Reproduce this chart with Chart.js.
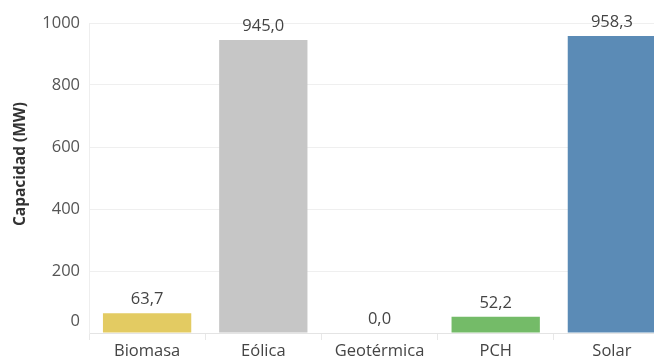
<!DOCTYPE html>
<html>
<head>
<meta charset="utf-8">
<script src="https://cdn.jsdelivr.net/npm/chart.js@4/dist/chart.umd.min.js"></script>
<style>
  html, body { margin: 0; padding: 0; background: #fff; overflow: hidden; }
  #wrap { width: 654px; height: 358px; overflow: hidden; position: relative; }
  canvas { display: block; }
</style>
</head>
<body>
<div id="wrap"><canvas id="c" width="670" height="358"></canvas></div>
<script>
const categories = ['Biomasa', 'Eólica', 'Geotérmica', 'PCH', 'Solar'];
const capacidadMW = [63.7, 945.0, 0.0, 52.2, 958.3];
const barColors = ['#e3cb62', '#c6c6c6', '#9fcbe8', '#74bb68', '#5b8bb6'];
const yTicks = [0, 200, 400, 600, 800, 1000];
const yTitle = 'Capacidad (MW)';

const FONT = '"Open Sans", "Noto Sans", sans-serif';
const fmt = v => v.toFixed(1).replace('.', ',');

// value labels above each bar, plus the axis title and the raised zero label
const extras = {
  id: 'extras',
  afterDatasetsDraw(chart) {
    const ctx = chart.ctx;
    const meta = chart.getDatasetMeta(0);
    ctx.save();
    ctx.font = '16.5px ' + FONT;
    ctx.fillStyle = '#444';
    ctx.textAlign = 'center';
    ctx.textBaseline = 'middle';
    meta.data.forEach((bar, i) => {
      ctx.fillText(fmt(capacidadMW[i]), bar.x, bar.y - 14);
    });
    ctx.restore();
  },
  afterDraw(chart) {
    const ctx = chart.ctx;
    const y = chart.scales.y;
    ctx.save();
    ctx.font = '16.5px ' + FONT;
    ctx.fillStyle = '#555';
    ctx.textAlign = 'right';
    ctx.textBaseline = 'middle';
    ctx.fillText('0', y.right - 9, y.getPixelForValue(0) - 12);
    ctx.translate(21, 164);
    ctx.rotate(-Math.PI / 2);
    ctx.textAlign = 'center';
    ctx.font = 'bold 15.5px ' + FONT;
    ctx.fillStyle = '#333';
    ctx.fillText(yTitle, 0, 0);
    ctx.restore();
  }
};

new Chart(document.getElementById('c'), {
  type: 'bar',
  data: {
    labels: categories,
    datasets: [{
      data: capacidadMW,
      backgroundColor: barColors,
      barPercentage: 0.76,
      categoryPercentage: 1.0
    }]
  },
  options: {
    responsive: false,
    animation: false,
    layout: { padding: { top: 23, left: 0, right: 0, bottom: 0 } },
    plugins: { legend: { display: false }, tooltip: { enabled: false } },
    scales: {
      x: {
        offset: true,
        grid: {
          offset: true,
          drawOnChartArea: false,
          drawTicks: true,
          tickLength: 7,
          color: '#e8e8e8'
        },
        border: { color: '#e4e4e4' },
        ticks: {
          font: { family: FONT, size: 16.5 },
          color: '#444',
          padding: 1
        },
        afterFit(s) { s.height = 25; }
      },
      y: {
        min: 0,
        max: 1000,
        afterBuildTicks(s) { s.ticks = yTicks.map(v => ({ value: v })); },
        grid: { color: '#efefef', drawTicks: false },
        border: { color: '#eeeeee' },
        ticks: {
          font: { family: FONT, size: 16.5 },
          color: '#555',
          padding: 9,
          callback: v => (v === 0 ? '' : String(v))
        },
        afterFit(s) { s.width = 89; }
      }
    }
  },
  plugins: [extras]
});
</script>
</body>
</html>
